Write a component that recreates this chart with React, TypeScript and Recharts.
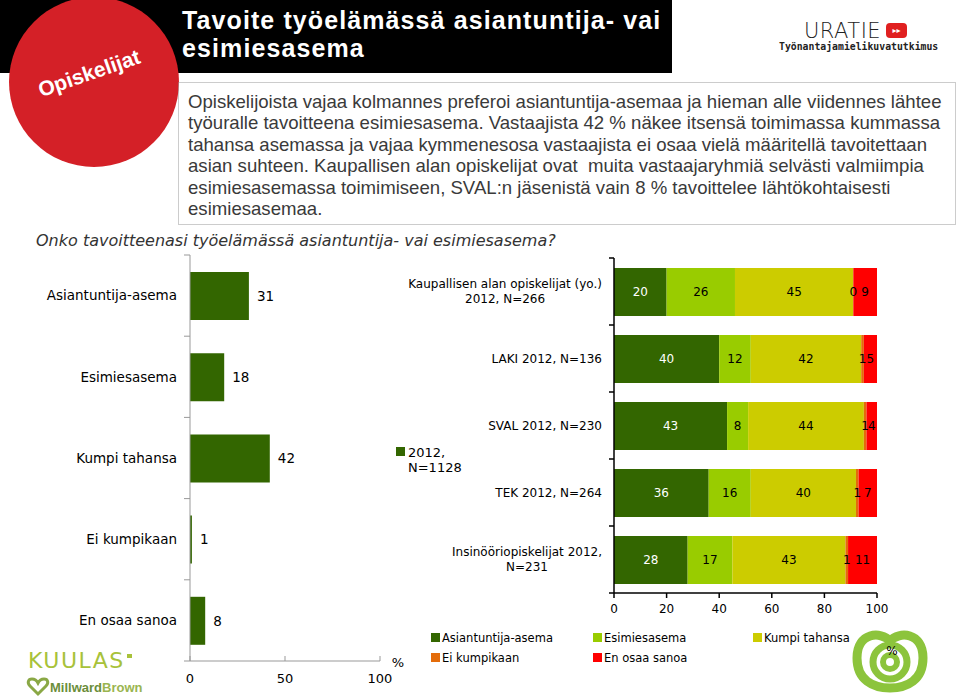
import { Bar, BarChart, LabelList, XAxis, YAxis } from "recharts";

// Left chart: all respondents
const TOTAL_CATEGORIES = [
  "Asiantuntija-asema",
  "Esimiesasema",
  "Kumpi tahansa",
  "Ei kumpikaan",
  "En osaa sanoa",
];
const TOTAL_VALUES = [31, 18, 42, 1, 8];
const TOTAL_TICKS = [0, 50, 100];
const TOTAL_LEGEND = ["2012,", "N=1128"];

// Right chart: respondent groups
const GROUP_LABELS = [
  "Kaupallisen alan opiskelijat (yo.)\n2012, N=266",
  "LAKI 2012, N=136",
  "SVAL 2012, N=230",
  "TEK 2012, N=264",
  "Insinööriopiskelijat 2012,\nN=231",
];
const ASIANTUNTIJA = [20, 40, 43, 36, 28];
const ESIMIESASEMA = [26, 12, 8, 16, 17];
const KUMPI_TAHANSA = [45, 42, 44, 40, 43];
const EI_KUMPIKAAN = [0, 1, 1, 1, 1];
const EN_OSAA_SANOA = [9, 5, 4, 7, 11];
const GROUP_TICKS = [0, 20, 40, 60, 80, 100];
const ANSWER_NAMES = [
  "Asiantuntija-asema",
  "Esimiesasema",
  "Kumpi tahansa",
  "Ei kumpikaan",
  "En osaa sanoa",
];

const ANSWER_COLORS = ["#336600", "#99cc00", "#cccc00", "#e46c0a", "#ff0000"];
const LABEL_COLORS = ["#ffffff", "#000000", "#000000", "#000000", "#000000"];
const DARK_GREEN = "#336600";
const FONT = "'DejaVu Sans', Verdana, sans-serif";
const ARIAL = "'Liberation Sans', Arial, sans-serif";

const PARAGRAPH = [
  "Opiskelijoista vajaa kolmannes preferoi asiantuntija-asemaa ja hieman alle viidennes lähtee",
  "työuralle tavoitteena esimiesasema. Vastaajista 42 % näkee itsensä toimimassa kummassa",
  "tahansa asemassa ja vajaa kymmenesosa vastaajista ei osaa vielä määritellä tavoitettaan",
  "asian suhteen. Kaupallisen alan opiskelijat ovat  muita vastaajaryhmiä selvästi valmiimpia",
  "esimiesasemassa toimimiseen, SVAL:n jäsenistä vain 8 % tavoittelee lähtökohtaisesti",
  "esimiesasemaa.",
];

const SERIES = [ASIANTUNTIJA, ESIMIESASEMA, KUMPI_TAHANSA, EI_KUMPIKAAN, EN_OSAA_SANOA];

const totalData = TOTAL_CATEGORIES.map((name, i) => ({ name, value: TOTAL_VALUES[i] }));
const groupData = GROUP_LABELS.map((name, i) => {
  const row: Record<string, any> = { name };
  SERIES.forEach((s, j) => (row[`s${j}`] = s[i]));
  return row;
});

// chart geometry
const L = { w: 420, h: 460, top: 15, bottom: 9, xh: 30, yw: 190, right: 40 };
const L_BAND = (L.h - L.top - L.bottom - L.xh) / TOTAL_CATEGORIES.length;
const R = { w: 520, h: 400, top: 18, bottom: 17, xh: 30, yw: 214, right: 43 };
const R_BAND = (R.h - R.top - R.bottom - R.xh) / GROUP_LABELS.length;

let ctx: CanvasRenderingContext2D | null = null;
function textWidth(s: string, font: string) {
  if (!ctx) ctx = document.createElement("canvas").getContext("2d");
  if (!ctx) return s.length * 7;
  ctx.font = font;
  return ctx.measureText(s).width;
}

function TotalTick(props: any) {
  const { x, y, payload, index } = props;
  const last = index === TOTAL_CATEGORIES.length - 1;
  return (
    <g>
      <line x1={x - 6} x2={x} y1={y - L_BAND / 2} y2={y - L_BAND / 2} stroke="#999" />
      {last && <line x1={x - 6} x2={x} y1={y + L_BAND / 2} y2={y + L_BAND / 2} stroke="#999" />}
      <text x={x - 13} y={y} dy="0.35em" textAnchor="end" fontSize={13.5} fontFamily={FONT} fill="#000">
        {payload.value}
      </text>
    </g>
  );
}

function TotalXTick(props: any) {
  const { x, y, payload } = props;
  return (
    <g>
      <line x1={x} x2={x} y1={y} y2={y - 5} stroke="#999" />
      <text x={x} y={y + 17} dy="0.35em" textAnchor="middle" fontSize={13} fontFamily={FONT} fill="#000">
        {payload.value}
      </text>
    </g>
  );
}

function GroupTick(props: any) {
  const { x, y, payload, index } = props;
  const lines = String(payload.value).split("\n");
  const w = Math.max(...lines.map((l) => textWidth(l, `12px ${FONT}`)));
  const cx = x - 12 - w / 2;
  const last = index === GROUP_LABELS.length - 1;
  return (
    <g>
      <line x1={x - 5} x2={x} y1={y - R_BAND / 2} y2={y - R_BAND / 2} stroke="#000" strokeWidth={1.5} />
      {last && <line x1={x - 5} x2={x} y1={y + R_BAND / 2} y2={y + R_BAND / 2} stroke="#000" strokeWidth={1.5} />}
      <text textAnchor="middle" fontSize={12} fontFamily={FONT} fill="#000">
        {lines.map((l, i) => (
          <tspan key={i} x={cx} y={y + (i - (lines.length - 1) / 2) * 15} dy="0.35em">
            {l}
          </tspan>
        ))}
      </text>
    </g>
  );
}

function GroupXTick(props: any) {
  const { x, y, payload } = props;
  return (
    <g>
      <line x1={x} x2={x} y1={y} y2={y + 5} stroke="#000" strokeWidth={1.5} />
      <text x={x} y={y + 16} dy="0.35em" textAnchor="middle" fontSize={12} fontFamily={FONT} fill="#000">
        {payload.value}
      </text>
    </g>
  );
}

function segText(x: number, y: number, value: any, color: string) {
  return (
    <text x={x} y={y} dy="0.35em" textAnchor="middle" fontSize={12} fontFamily={FONT} fill={color}>
      {value}
    </text>
  );
}

function segmentLabel(color: string) {
  return (p: any) => {
    const vb = p.viewBox ?? p;
    if (vb == null || vb.x == null) return null;
    return segText(vb.x + vb.width / 2, vb.y + vb.height / 2, p.value, color);
  };
}

// the last segment also labels the thin "Ei kumpikaan" slice left of it
// (recharts drops zero-width rects, which would lose the "0" label)
function tailLabels(p: any) {
  const vb = p.viewBox ?? p;
  if (vb == null || vb.x == null) return null;
  const i = p.index ?? 0;
  const unit = EN_OSAA_SANOA[i] ? vb.width / EN_OSAA_SANOA[i] : 0;
  const cy = vb.y + vb.height / 2;
  return (
    <g>
      {segText(vb.x - (EI_KUMPIKAAN[i] * unit) / 2, cy, EI_KUMPIKAAN[i], LABEL_COLORS[3])}
      {segText(vb.x + vb.width / 2, cy, p.value, LABEL_COLORS[4])}
    </g>
  );
}

function Decorations() {
  return (
    <svg width={959} height={700} style={{ position: "absolute", left: 0, top: 0 }}>
      <rect x={0} y={0} width={672} height={73} fill="#000" />
      <circle cx={94} cy={82} r={85} fill="#d42027" />
      <text
        x={89}
        y={73}
        dy="0.35em"
        textAnchor="middle"
        fontSize={21}
        fontWeight="bold"
        fontFamily={ARIAL}
        fill="#fff"
        transform="rotate(-19 89 73)"
      >
        Opiskelijat
      </text>
      <text x={182} y={29} fontSize={25} letterSpacing={1.1} fontWeight="bold" fontFamily={ARIAL} fill="#fff">
        Tavoite työelämässä asiantuntija- vai
      </text>
      <text x={182} y={57} fontSize={25} letterSpacing={1.1} fontWeight="bold" fontFamily={ARIAL} fill="#fff">
        esimiesasema
      </text>

      {/* URATIE logo */}
      <text x={804} y={38} fontSize={21} fontWeight={200} fontFamily={FONT} fill="#222" letterSpacing={0.5}>
        URATIE
      </text>
      <rect x={886} y={23} width={21} height={15} rx={4} fill="#e02020" />
      <text x={896.5} y={30.5} dy="0.35em" textAnchor="middle" fontSize={8} fill="#fff" fontFamily={FONT}>
        ▸▸
      </text>
      <text x={779} y={50} fontSize={9.8} fontWeight="bold" fontFamily="'DejaVu Sans Mono', monospace" fill="#222">
        Työnantajamielikuvatutkimus
      </text>

      {/* summary box */}
      <rect x={178.5} y={82.5} width={777} height={142} fill="none" stroke="#999" strokeDasharray="1 1" />
      <text fontSize={18.6} fontFamily={ARIAL} fill="#3a3a3a" style={{ whiteSpace: "pre" }}>
        {PARAGRAPH.map((l, i) => (
          <tspan key={i} x={188} y={108 + i * 21.4}>
            {l}
          </tspan>
        ))}
      </text>

      <text x={36} y={246} fontSize={16} fontStyle="italic" fontFamily={FONT} fill="#333">
        Onko tavoitteenasi työelämässä asiantuntija- vai esimiesasema?
      </text>

      {/* left legend */}
      <rect x={396} y={447} width={9} height={9} fill={DARK_GREEN} />
      <text fontSize={13} fontFamily={FONT} fill="#000">
        <tspan x={408} y={457}>{TOTAL_LEGEND[0]}</tspan>
        <tspan x={408} y={472}>{TOTAL_LEGEND[1]}</tspan>
      </text>
      <text x={398} y={667} textAnchor="middle" fontSize={13} fontFamily={FONT} fill="#000">
        %
      </text>

      {/* apple logo */}
      <path
        d="M890 641 C899 631 923 632 923 658 C923 680 907 688 890 688 C873 688 857 680 857 658 C857 632 881 631 890 641 Z"
        fill="none"
        stroke="#8cc43c"
        strokeWidth={9}
      />
      <circle cx={890} cy={662} r={17} fill="none" stroke="#8cc43c" strokeWidth={7} />
      <circle cx={890} cy={662} r={7} fill="none" stroke="#8cc43c" strokeWidth={6} />

      {/* right legend */}
      {ANSWER_NAMES.map((n, i) => {
        const col = i % 3;
        const row = Math.floor(i / 3);
        const x = [431, 593, 753][col];
        const y = 638 + row * 20;
        return (
          <g key={n}>
            <rect x={x} y={y - 5} width={9} height={9} fill={ANSWER_COLORS[i]} />
            <text x={x + 11} y={y} dy="0.35em" fontSize={11.5} fontFamily={FONT} fill="#000">
              {n}
            </text>
          </g>
        );
      })}
      <text x={892} y={655} textAnchor="middle" fontSize={12} fontFamily={FONT} fill="#000">
        %
      </text>

      {/* KUULAS / MillwardBrown */}
      <text x={28} y={668} fontSize={22} fontFamily={FONT} fill="#a8c23a" letterSpacing={1.5}>
        KUULAS
      </text>
      <rect x={127} y={654} width={5} height={4} fill="#a8c23a" />
      <path
        d="M38 694 L30 686 C27 683 28 679 32 679 C35 679 37 681 38 683 C39 681 41 679 44 679 C48 679 49 683 46 686 Z"
        fill="none"
        stroke="#8aa845"
        strokeWidth={3}
      />
      <text x={50} y={692} fontSize={13} fontWeight="bold" fontFamily={ARIAL}>
        <tspan fill="#6b8e3a">Millward</tspan>
        <tspan fill="#9ab550">Brown</tspan>
      </text>
    </svg>
  );
}

export default function App() {
  return (
    <div style={{ position: "absolute", left: 0, top: 0, width: 959, height: 700, background: "#fff", overflow: "hidden" }}>
      <Decorations />

      <div style={{ position: "absolute", left: 0, top: 240 }}>
        <BarChart
          width={L.w}
          height={L.h}
          data={totalData}
          layout="vertical"
          margin={{ top: L.top, right: L.right, bottom: L.bottom, left: 0 }}
        >
          <XAxis
            type="number"
            domain={[0, 100]}
            ticks={TOTAL_TICKS}
            height={L.xh}
            axisLine={{ stroke: "#999" }}
            tickLine={false}
            tickSize={0}
            tickMargin={0}
            tick={<TotalXTick />}
          />
          <YAxis
            type="category"
            dataKey="name"
            width={L.yw}
            axisLine={{ stroke: "#999" }}
            tickLine={false}
            tickSize={0}
            tickMargin={0}
            tick={<TotalTick />}
            interval={0}
          />
          <Bar dataKey="value" fill={DARK_GREEN} barSize={48} isAnimationActive={false}>
            <LabelList dataKey="value" position="right" offset={8} fontSize={13.5} fontFamily={FONT} fill="#000" />
          </Bar>
        </BarChart>
      </div>

      <div style={{ position: "absolute", left: 400, top: 240 }}>
        <BarChart
          width={R.w}
          height={R.h}
          data={groupData}
          layout="vertical"
          margin={{ top: R.top, right: R.right, bottom: R.bottom, left: 0 }}
        >
          <XAxis
            type="number"
            domain={[0, 100]}
            ticks={GROUP_TICKS}
            height={R.xh}
            axisLine={{ stroke: "#000", strokeWidth: 1.5 }}
            tickLine={false}
            tickSize={0}
            tickMargin={0}
            tick={<GroupXTick />}
          />
          <YAxis
            type="category"
            dataKey="name"
            width={R.yw}
            axisLine={{ stroke: "#000", strokeWidth: 1.5 }}
            tickLine={false}
            tickSize={0}
            tickMargin={0}
            tick={<GroupTick />}
            interval={0}
          />
          {SERIES.map((_, j) => (
            <Bar
              key={j}
              dataKey={`s${j}`}
              name={ANSWER_NAMES[j]}
              stackId="a"
              fill={ANSWER_COLORS[j]}
              barSize={48}
              isAnimationActive={false}
            >
              {j < 3 && <LabelList dataKey={`s${j}`} content={segmentLabel(LABEL_COLORS[j])} />}
              {j === 4 && <LabelList dataKey={`s${j}`} content={tailLabels} />}
            </Bar>
          ))}
        </BarChart>
      </div>
    </div>
  );
}
